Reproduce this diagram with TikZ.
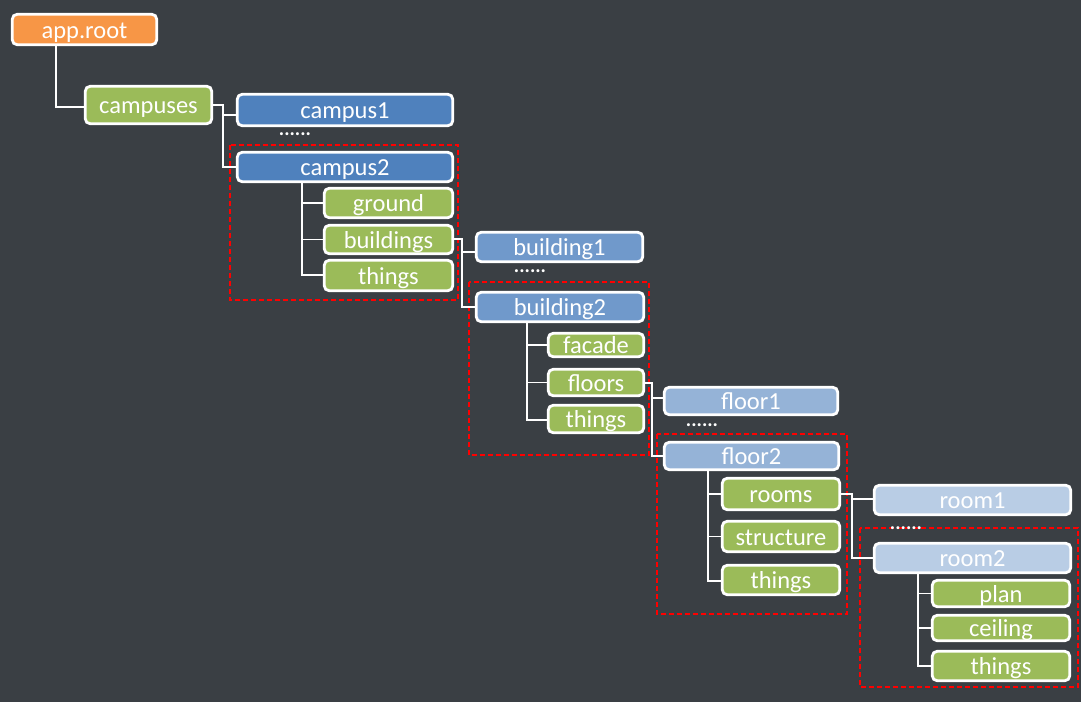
\documentclass[tikz,border=0pt]{standalone}
\usepackage{fontspec}
\setmainfont{Carlito}
\newcommand\nodefont{\fontsize{24.5}{27}\selectfont}
\newcommand\dotfont{\fontsize{20}{22}\selectfont\bfseries}
\definecolor{bgc}{HTML}{3A3F44}
\definecolor{corange}{HTML}{F79646}
\definecolor{cgreen}{HTML}{9BBB59}
\definecolor{cblueA}{HTML}{4F81BD}
\definecolor{cblueB}{HTML}{7099CB}
\definecolor{cblueC}{HTML}{95B3D7}
\definecolor{cblueD}{HTML}{B9CDE5}
\tikzset{
  box/.style={draw=white, line width=2.8pt, rounded corners=5pt, inner sep=0pt, outer sep=0pt,
    text=white, font=\nodefont, text height=18pt, text depth=1pt},
  conn/.style={draw=white, line width=1.8pt},
  grp/.style={draw=red, line width=1.5pt, dash pattern=on 5pt off 3pt},
  dotsnode/.style={text=white, font=\dotfont, inner sep=0pt, anchor=base},
}
\begin{document}
\begin{tikzpicture}[x=1pt,y=-1pt]
\fill[bgc] (0,0) rectangle (1081,702);
\useasboundingbox (0,0) rectangle (1081,702);

% group frames
\draw[grp] (230,145) rectangle (458,300);
\draw[grp] (469,282) rectangle (649,455);
\draw[grp] (657,434) rectangle (847,614);
\draw[grp] (860,528) rectangle (1078,687);

% nodes
\node[box, fill=corange, minimum width=144.5pt, minimum height=30.5pt] (approot) at (84.5,29.5) {app.root};
\node[box, fill=cgreen, minimum width=126.5pt, minimum height=37.5pt] (campuses) at (148.5,105) {campuses};
\node[box, fill=cblueA, minimum width=215.5pt, minimum height=31.5pt] (campus1) at (345,110) {campus1};
\node[box, fill=cblueA, minimum width=215.5pt, minimum height=29.5pt] (campus2) at (345,167) {campus2};
\node[box, fill=cgreen, minimum width=128.5pt, minimum height=29.5pt] (ground) at (388.5,203) {ground};
\node[box, fill=cgreen, minimum width=128.5pt, minimum height=28.5pt] (buildings) at (388.5,239.5) {buildings};
\node[box, fill=cgreen, minimum width=128.5pt, minimum height=30.5pt] (thingsA) at (388.5,275.5) {things};

\node[box, fill=cblueB, minimum width=166.5pt, minimum height=29.5pt] (building1) at (559.5,247) {building1};
\node[box, fill=cblueB, minimum width=167.5pt, minimum height=29.5pt] (building2) at (560,307) {building2};
\node[box, fill=cgreen, minimum width=95.5pt, minimum height=23.5pt] (facade) at (596,345) {facade};
\node[box, fill=cgreen, minimum width=95.5pt, minimum height=26.5pt] (floors) at (596,382.5) {floors};
\node[box, fill=cgreen, minimum width=95.5pt, minimum height=27.5pt] (thingsB) at (596,419) {things};

\node[box, fill=cblueC, minimum width=173.5pt, minimum height=27.5pt] (floor1) at (751,401) {floor1};
\node[box, fill=cblueC, minimum width=174.5pt, minimum height=27.5pt] (floor2) at (751.5,456) {floor2};
\node[box, fill=cgreen, minimum width=117.5pt, minimum height=31.5pt] (rooms) at (781,494) {rooms};
\node[box, fill=cgreen, minimum width=117.5pt, minimum height=30.5pt] (structure) at (781,536.5) {structure};
\node[box, fill=cgreen, minimum width=117.5pt, minimum height=29.5pt] (thingsC) at (781,580) {things};

\node[box, fill=cblueD, minimum width=196.5pt, minimum height=29.5pt] (room1) at (972.5,500) {room1};
\node[box, fill=cblueD, minimum width=196.5pt, minimum height=29.5pt] (room2) at (972.5,558) {room2};
\node[box, fill=cgreen, minimum width=137.5pt, minimum height=26.5pt] (plan) at (1001,593.5) {plan};
\node[box, fill=cgreen, minimum width=137.5pt, minimum height=25.5pt] (ceiling) at (1001,628) {ceiling};
\node[box, fill=cgreen, minimum width=137.5pt, minimum height=29.5pt] (thingsD) at (1001,666) {things};

% ellipses
\node[dotsnode] (dotsA) at (295,135) {......};
\node[dotsnode] (dotsB) at (530,272.5) {......};
\node[dotsnode] (dotsC) at (702,426) {......};
\node[dotsnode] (dotsD) at (906,529) {......};

% connector corner points
\coordinate (k1) at (56,107);
\coordinate (k2) at (223,105);
\coordinate (k2b) at (223,115);
\coordinate (v1) at (302,275);
\coordinate (k3) at (462,239);
\coordinate (k3b) at (462,252);
\coordinate (v2) at (527,420);
\coordinate (k4) at (652,383);
\coordinate (k4b) at (652,398);
\coordinate (v3) at (708,581);
\coordinate (k5) at (852,494);
\coordinate (k5b) at (852,499);
\coordinate (v4) at (918,666);

% connectors
\draw[conn] (approot.south -| k1) -- (k1) -- (k1 -| campuses.west);
\draw[conn] (campuses.east |- k2) -- (k2) -- (k2 |- campus2.west) -- (campus2.west);
\draw[conn] (k2b) -- (k2b -| campus1.west);
\draw[conn] (campus2.south -| v1) -- (v1) -- (v1 -| thingsA.west);
\draw[conn] (ground.west -| v1) -- (ground.west);
\draw[conn] (buildings.west -| v1) -- (buildings.west);

\draw[conn] (buildings.east |- k3) -- (k3) -- (k3 |- building2.west) -- (building2.west);
\draw[conn] (k3b) -- (k3b -| building1.west);
\draw[conn] (building2.south -| v2) -- (v2) -- (v2 -| thingsB.west);
\draw[conn] (facade.west -| v2) -- (facade.west);
\draw[conn] (floors.west -| v2) -- (floors.west);

\draw[conn] (floors.east |- k4) -- (k4) -- (k4 |- floor2.west) -- (floor2.west);
\draw[conn] (k4b) -- (k4b -| floor1.west);
\draw[conn] (floor2.south -| v3) -- (v3) -- (v3 -| thingsC.west);
\draw[conn] (rooms.west -| v3) -- (rooms.west);
\draw[conn] (structure.west -| v3) -- (structure.west);

\draw[conn] (rooms.east |- k5) -- (k5) -- (k5 |- room2.west) -- (room2.west);
\draw[conn] (k5b) -- (k5b -| room1.west);
\draw[conn] (room2.south -| v4) -- (v4) -- (v4 -| thingsD.west);
\draw[conn] (plan.west -| v4) -- (plan.west);
\draw[conn] (ceiling.west -| v4) -- (ceiling.west);
\end{tikzpicture}
\end{document}
